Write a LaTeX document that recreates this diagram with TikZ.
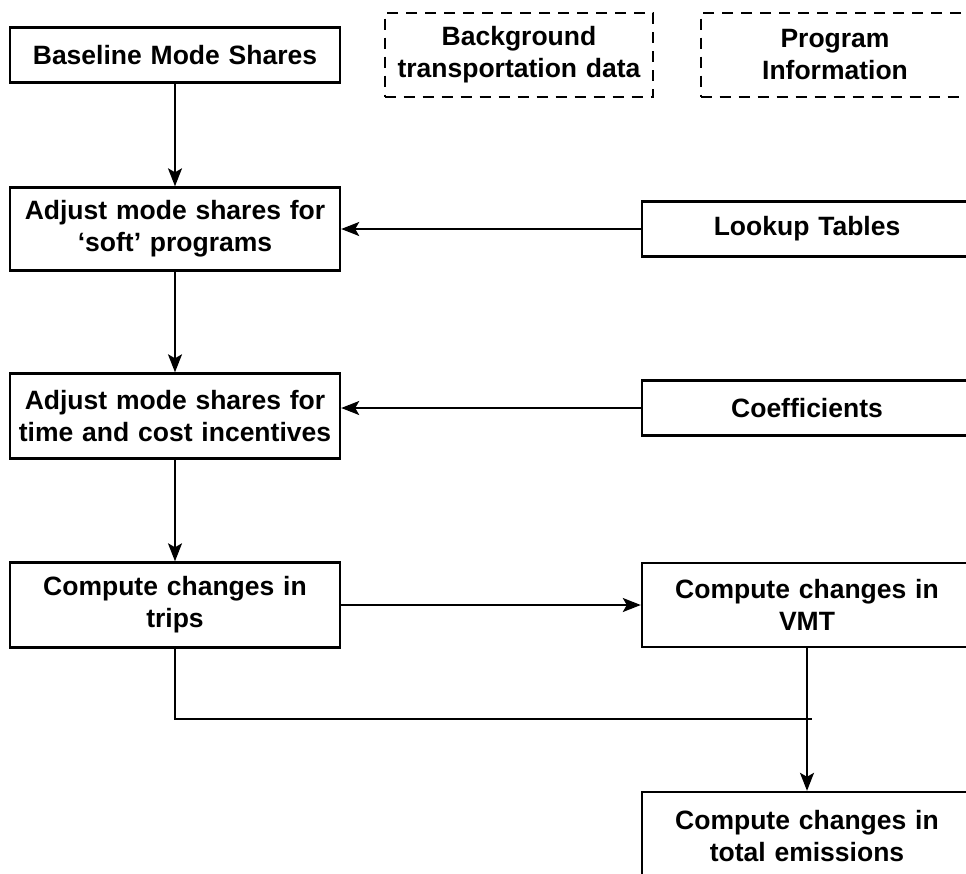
\documentclass[tikz,border=0pt]{standalone}
\usepackage{fontspec}
\setmainfont{Liberation Sans}
\usetikzlibrary{arrows.meta,positioning,calc}

\begin{document}
\begin{tikzpicture}[x=1pt, y=-1pt,
        every node/.style={font=\fontsize{26.5}{32}\selectfont\bfseries, align=center},
        stage/.style={draw, line width=2.4pt, minimum width=330pt, text width=322pt},
        source/.style={draw, line width=1.8pt, dash pattern=on 11pt off 8pt, minimum width=268pt, minimum height=84pt, text width=262pt},
        flow/.style={line width=1.9pt, -{Stealth[length=18pt, width=14pt, inset=4pt]}},
        link/.style={line width=1.9pt}]
        \clip (0,0) rectangle (966,873);
        \fill[white] (0,0) rectangle (966,873);
        \node[stage, minimum height=55pt] (base) at (175,55) {Baseline Mode Shares};
        \node[source] (bg) at (519,55) {Background\\transportation data};
        \node[source, minimum width=266pt] (prog) at (835,55) {Program\\Information};
        \node[stage, minimum height=83pt] (soft) at (175,229) {Adjust mode shares for\\‘soft’ programs};
        \node[stage, minimum height=55pt] (lookup) at (807,229) {Lookup Tables};
        \node[stage, minimum height=85pt] (incent) at (175,416) {Adjust mode shares for\\time and cost incentives};
        \node[stage, minimum height=55pt] (coef) at (807,408) {Coefficients};
        \node[stage, minimum height=85pt] (trips) at (175,605) {Compute changes in\\trips};
        \node[stage, minimum height=84pt] (vmt) at (807,605) {Compute changes in\\VMT};
        \node[stage, minimum height=88pt] (emis) at (807,836) {Compute changes in\\total emissions};
        \coordinate (join) at (812,719);
        \draw[flow] (base) -- (soft);
        \draw[flow] (lookup) -- (soft);
        \draw[flow] (soft) -- (incent);
        \draw[flow] (coef.west) -- (coef.west -| incent.east);
        \draw[flow] (incent) -- (trips);
        \draw[flow] (trips) -- (vmt);
        \draw[link] (trips.south) |- (join);
        \draw[flow] (vmt) -- (emis);
    \end{tikzpicture}
\end{document}
